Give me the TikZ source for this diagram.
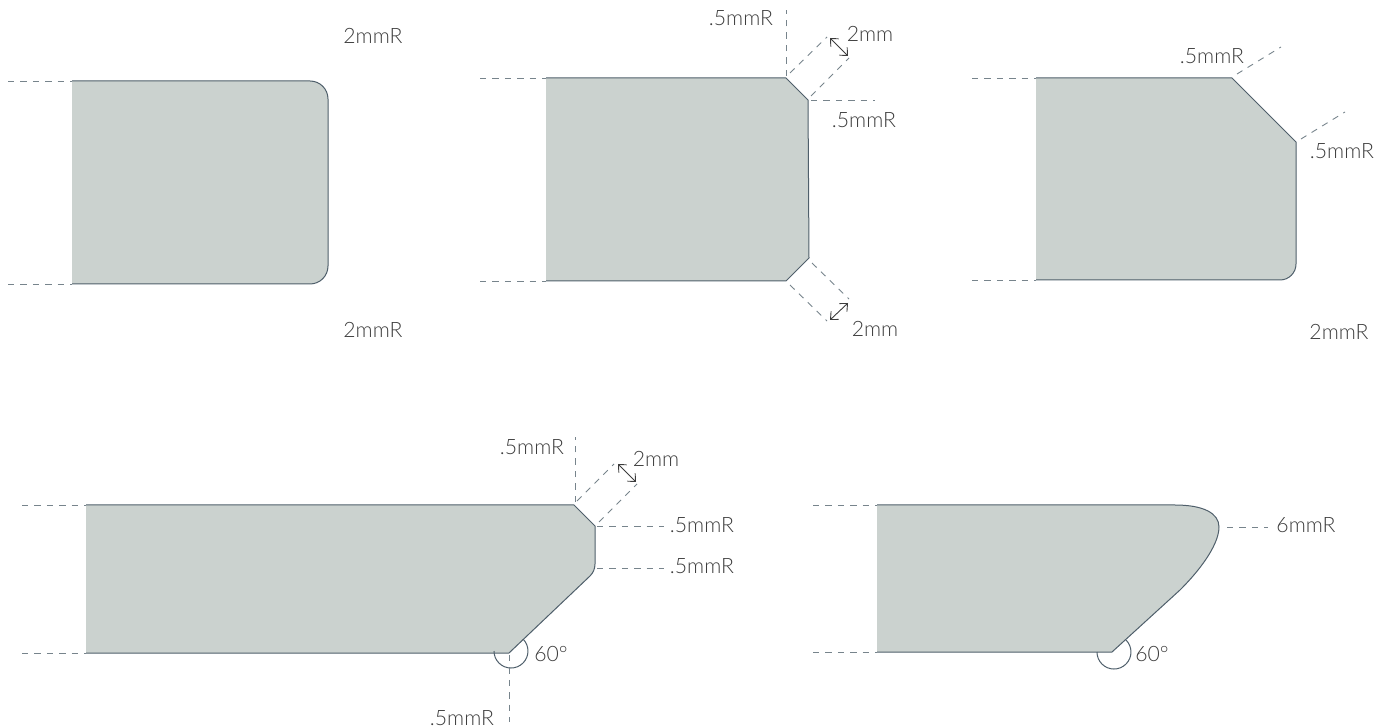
\documentclass[tikz,border=0pt]{standalone}
\usepackage{fontspec}
\setmainfont{Lato Light}
\usetikzlibrary{arrows.meta}
\definecolor{edgefill}{HTML}{CBD2CF}
\definecolor{edgeline}{HTML}{4F5F6B}
\definecolor{guideline}{HTML}{77848C}
\definecolor{labeltext}{HTML}{3C3C3C}
\tikzset{
  profile/.style={fill=edgefill, draw=none},
  outline/.style={draw=edgeline, line width=0.5pt},
  guide/.style={draw=guideline, line width=0.45pt, dash pattern=on 3.2pt off 3pt},
  span/.style={draw=labeltext, line width=0.45pt, {Straight Barb[length=3pt,width=5.5pt]}-{Straight Barb[length=3pt,width=5.5pt]}},
  dim/.style={font=\fontsize{10.6}{12}\selectfont, text=labeltext, inner sep=0pt}
}

\begin{document}
\begin{tikzpicture}[x=0.5pt,y=-0.5pt]
  \useasboundingbox (0,0) rectangle (1378,727);

  % top left profile
  \fill[profile] (72,81) -- (310,81) arc[start angle=-90,end angle=0,radius=18] -- (328,266) arc[start angle=0,end angle=90,radius=18] -- (72,284) -- cycle;
  \draw[outline] (72,81) -- (310,81) arc[start angle=-90,end angle=0,radius=18] -- (328,266) arc[start angle=0,end angle=90,radius=18] -- (72,284);

  % top middle profile
  \fill[profile] (546,78) -- (786,78) -- (808,100) -- (809,258) -- (786,281) -- (546,281) -- cycle;
  \draw[outline] (546,78) -- (786,78) -- (808,100) -- (809,258) -- (786,281) -- (546,281);

  % top right profile
  \fill[profile] (1036,78) -- (1232,78) -- (1296,142) -- (1296,264) arc[start angle=0,end angle=90,radius=16] -- (1036,280) -- cycle;
  \draw[outline] (1036,78) -- (1232,78) -- (1296,142) -- (1296,264) arc[start angle=0,end angle=90,radius=16] -- (1036,280);

  % bottom left profile
  \fill[profile] (86,505) -- (574,505) -- (595,526) -- (595,564) .. controls (595,569) and (593,573) .. (590,576) -- (509,653) -- (86,653) -- cycle;
  \draw[outline] (86,505) -- (574,505) -- (595,526) -- (595,564) .. controls (595,569) and (593,573) .. (590,576) -- (509,653) -- (86,653);

  % bottom right profile
  \fill[profile] (877,505) -- (1175,505) .. controls (1203,505) and (1219,513) .. (1219,527) .. controls (1219,542) and (1205,565) .. (1180,590) -- (1112,652) -- (877,652) -- cycle;
  \draw[outline] (877,505) -- (1175,505) .. controls (1203,505) and (1219,513) .. (1219,527) .. controls (1219,542) and (1205,565) .. (1180,590) -- (1112,652) -- (877,652);

  % angle marks
  \draw[outline] (523,639) arc[start angle=-45,end angle=180,radius=17];
  \draw[outline] (1126,640) arc[start angle=-45,end angle=180,radius=17];

  % dashed guides
  \foreach \xa/\ya/\xb/\yb in {
      8/81/72/81, 8/284/72/284,
      480/78/546/78, 480/281/546/281, 786/76/786/10, 790/73/827/37, 811/96/849/58, 811/100/875/100, 812/263/849/299, 790/285/827/321,
      972/78/1036/78, 972/280/1036/280, 1237/74/1281/47, 1301/139/1345/112,
      22/505/86/505, 22/653/86/653, 575/502/575/437, 577/501/614/464, 599/522/637/484, 597/526/664/526, 597/568/664/568, 509/655/509/722,
      813/505/877/505, 813/652/877/652, 1227/527/1268/527}
  \draw[guide] (\xa,\ya) -- (\xb,\yb);

  % width arrows
  \foreach \xa/\ya/\xb/\yb in {830/38/848/56, 830/320/848/303, 618/464/636/482}
  \draw[span] (\xa,\ya) -- (\xb,\yb);

  % labels
  \foreach \name/\x/\y/\descr in {
      radiusa/373/36/2mmR, radiusb/373/330/2mmR,
      chamfera/741/18/.5mmR, chamferb/864/120/.5mmR, widtha/870/34/2mm, widthb/875/329/2mm,
      cornera/1212/56/.5mmR, cornerb/1342/151/.5mmR, radiusc/1339/332/2mmR,
      chamferc/532/447/.5mmR, widthc/656/459/2mm, chamferd/702/525/.5mmR, chamfere/702/566/.5mmR, anglea/551/654/60°, chamferf/462/718/.5mmR,
      radiusd/1306/525/6mmR, angleb/1152/654/60°}
  \node[dim] (\name) at (\x,\y) {\descr};
\end{tikzpicture}
\end{document}
